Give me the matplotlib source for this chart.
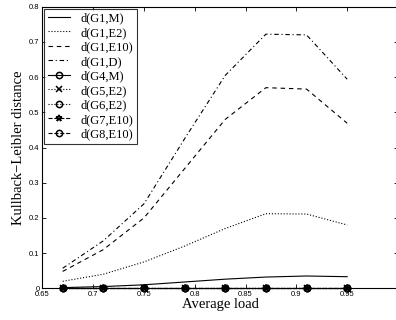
import matplotlib
matplotlib.use("Agg")
import matplotlib.pyplot as plt
from matplotlib.ticker import FormatStrFormatter, FixedLocator, MultipleLocator

# average load values where each distance was evaluated
load = [0.67, 0.71, 0.75, 0.79, 0.83, 0.87, 0.91, 0.95]

# Kullback-Leibler distances against G1
d_g1_m = [0.002, 0.005, 0.010, 0.018, 0.026, 0.032, 0.035, 0.033]
d_g1_e2 = [0.020, 0.040, 0.075, 0.120, 0.170, 0.212, 0.211, 0.180]
d_g1_e10 = [0.048, 0.110, 0.200, 0.340, 0.480, 0.570, 0.566, 0.469]
d_g1_d = [0.057, 0.135, 0.240, 0.425, 0.605, 0.722, 0.720, 0.594]

# distances for the fitted models, all close to zero
d_g4_m = [0.0005, 0.0005, 0.0005, 0.0005, 0.0005, 0.0005, 0.0005, 0.0005]
d_g5_e2 = [0.0005, 0.0005, 0.0005, 0.0005, 0.0005, 0.0005, 0.0005, 0.0005]
d_g6_e2 = [0.0005, 0.0005, 0.0005, 0.0005, 0.0005, 0.0005, 0.0005, 0.0005]
d_g7_e10 = [0.0005, 0.0005, 0.0005, 0.0005, 0.0005, 0.0005, 0.0005, 0.0005]
d_g8_e10 = [0.0005, 0.0005, 0.0005, 0.0005, 0.0005, 0.0005, 0.0005, 0.0005]

xticks = [0.65, 0.7, 0.75, 0.8, 0.85, 0.9, 0.95]

serif = ["Liberation Serif", "DejaVu Serif"]
sans = ["Liberation Sans", "DejaVu Sans"]

fig = plt.figure(figsize=(3.96, 3.2), dpi=100)
ax = fig.add_axes([0.107, 0.099, 0.898, 0.880])

lw = 0.8
ax.plot(load, d_g1_m, "-", color="black", lw=lw, label="d(G1,M)")
ax.plot(load, d_g1_e2, ":", color="black", lw=lw, label="d(G1,E2)")
ax.plot(load, d_g1_e10, "--", color="black", lw=lw, dashes=(4, 3.5), label="d(G1,E10)")
ax.plot(load, d_g1_d, "-.", color="black", lw=lw, dashes=(4, 2.5, 1, 2.5), label="d(G1,D)")

mk = dict(color="black", lw=lw, markersize=4.5, markerfacecolor="none",
          markeredgewidth=1.1, clip_on=False, zorder=5)
ax.plot(load, d_g4_m, "-", marker="o", label="d(G4,M)", **mk)
ax.plot(load, d_g5_e2, ":", marker="x", label="d(G5,E2)", **mk)
ax.plot(load, d_g6_e2, ":", marker="o", label="d(G6,E2)", **mk)
ax.plot(load, d_g7_e10, "--", marker="*", label="d(G7,E10)", **mk)
ax.plot(load, d_g8_e10, "--", marker="o", label="d(G8,E10)", **mk)

ax.set_xlim(0.65, 1.0)
ax.set_ylim(0, 0.8)
ax.xaxis.set_major_locator(FixedLocator(xticks))
ax.yaxis.set_major_locator(MultipleLocator(0.1))
ax.xaxis.set_major_formatter(FormatStrFormatter("%g"))
ax.yaxis.set_major_formatter(FormatStrFormatter("%g"))
ax.tick_params(direction="in", top=True, right=True, length=3, width=0.6,
               labelsize=5.5, pad=2)
for lab in ax.get_xticklabels() + ax.get_yticklabels():
    lab.set_family(sans)
for sp in ax.spines.values():
    sp.set_linewidth(0.8)

ax.set_xlabel("Average load", family=serif, fontsize=10.5, labelpad=0)
ax.set_ylabel("Kullback\u2212Leibler distance", family=serif, fontsize=10.5, labelpad=3)

leg = ax.legend(loc="upper left", prop={"family": serif, "size": 9},
                frameon=True, fancybox=False, edgecolor="black",
                borderaxespad=0.15, labelspacing=0.2, handlelength=1.8,
                handletextpad=0.8, borderpad=0.3)
leg.get_frame().set_linewidth(0.8)

fig.savefig("out.png", dpi=100)
